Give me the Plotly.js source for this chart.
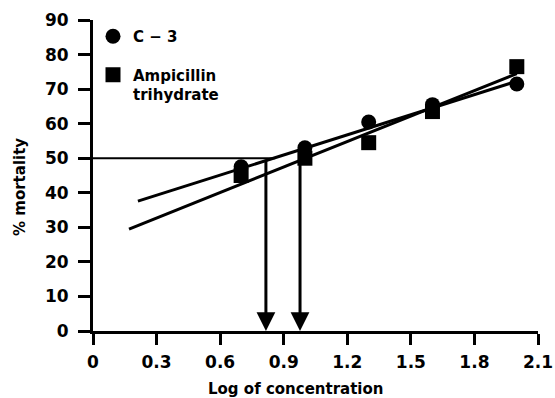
<!DOCTYPE html>
<html>
<head>
<meta charset="utf-8">
<script src="https://cdn.plot.ly/plotly-3.0.1.min.js"></script>
<style>html,body{margin:0;padding:0;background:#fff;}#chart{width:555px;height:398px;}</style>
</head>
<body>
<div id="chart"></div>
<script>
// Data
const logConc = [0.699, 1.0, 1.301, 1.602, 2.0];
const c3Mortality = [47.5, 53.0, 60.5, 65.5, 71.5];
const ampMortality = [45.0, 50.0, 54.5, 63.5, 76.5];
// Fitted regression lines (end points)
const c3FitX = [0.212, 2.0];
const c3FitY = [37.6, 72.3];
const ampFitX = [0.17, 2.0];
const ampFitY = [29.5, 74.5];
// 50% mortality reference line and LD50 read-offs
const refX = [0, 0.86];
const refY = [50, 50];
const ld50X = [0.816, 0.977];
const xTickVals = [0, 0.3, 0.6, 0.9, 1.2, 1.5, 1.8, 2.1];
const xTickText = ['0', '0.3', '0.6', '0.9', '1.2', '1.5', '1.8', '2.1'];
const yTickVals = [0, 10, 20, 30, 40, 50, 60, 70, 80, 90];

const FONT = 'DejaVu Sans';
const tickFont = {family: FONT, size: 17, color: '#000', weight: 'bold'};

const traces = [
  {x: c3FitX, y: c3FitY, mode: 'lines', line: {color: '#000', width: 3}, showlegend: false, hoverinfo: 'skip'},
  {x: ampFitX, y: ampFitY, mode: 'lines', line: {color: '#000', width: 3}, showlegend: false, hoverinfo: 'skip'},
  {x: refX, y: refY, mode: 'lines', line: {color: '#000', width: 2}, showlegend: false, hoverinfo: 'skip'},
  {x: logConc, y: c3Mortality, mode: 'markers', name: 'C − 3', legendgroup: 'a',
   marker: {symbol: 'circle', size: 15, color: '#000'}},
  {x: logConc, y: ampMortality, mode: 'markers', name: 'Ampicillin<br>trihydrate', legendgroup: 'b',
   marker: {symbol: 'square', size: 15, color: '#000'}}
];

const annotations = ld50X.map(v => ({
  x: v, y: 0, ax: v, ay: refY[0], xref: 'x', yref: 'y', axref: 'x', ayref: 'y',
  text: '', showarrow: true, arrowhead: 2, arrowsize: 1.25, arrowwidth: 3, arrowcolor: '#000', standoff: 0
}));
annotations.push({
  text: 'Log of concentration', xref: 'paper', yref: 'paper', x: (295 - 93) / 445, y: -(389 - 331) / 311,
  xanchor: 'center', yanchor: 'middle', showarrow: false,
  font: {family: FONT, size: 15, color: '#000', weight: 'bold'}
});
annotations.push({
  text: '% mortality', xref: 'paper', yref: 'paper', x: -(93 - 20) / 445, y: (331 - 187) / 311,
  xanchor: 'center', yanchor: 'middle', textangle: -90, showarrow: false,
  font: {family: FONT, size: 15, color: '#000', weight: 'bold'}
});

const layout = {
  width: 555, height: 398,
  margin: {l: 93, r: 17, t: 20, b: 67, pad: 0},
  paper_bgcolor: '#fff', plot_bgcolor: '#fff',
  showlegend: true,
  legend: {x: 0.0, y: 1.0, xanchor: 'left', yanchor: 'top', bgcolor: 'rgba(0,0,0,0)',
           font: {family: FONT, size: 15, color: '#000', weight: 'bold'},
           valign: 'top', tracegroupgap: 16, itemsizing: 'trace'},
  xaxis: {range: [0, 2.1], tickvals: xTickVals, ticktext: xTickText, showline: true, linewidth: 3, linecolor: '#000',
          ticks: 'outside', ticklen: 11, tickwidth: 3, tickcolor: '#000', showgrid: false, zeroline: false,
          tickfont: tickFont, ticklabelstandoff: 3, fixedrange: true},
  yaxis: {range: [0, 90], tickvals: yTickVals, showline: true, linewidth: 3, linecolor: '#000',
          ticks: 'outside', ticklen: 12, tickwidth: 3, tickcolor: '#000', showgrid: false, zeroline: false,
          tickfont: tickFont, ticklabelstandoff: 6, fixedrange: true},
  annotations: annotations
};

Plotly.newPlot('chart', traces, layout, {displayModeBar: false, staticPlot: true});
</script>
</body>
</html>
